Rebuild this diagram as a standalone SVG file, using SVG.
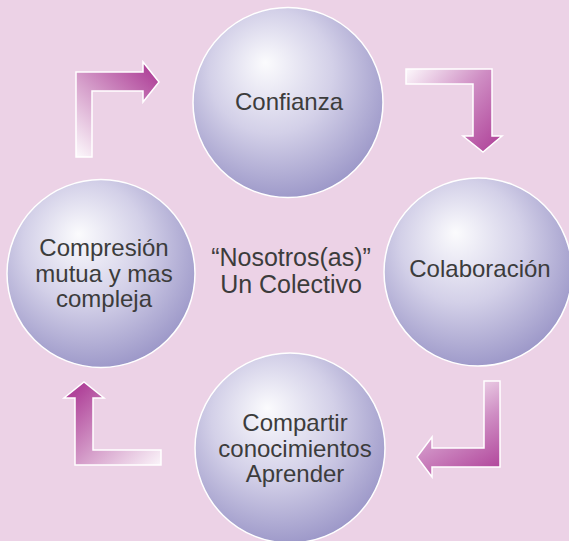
<svg xmlns="http://www.w3.org/2000/svg" width="569" height="541" viewBox="0 0 569 541">
<defs>
<radialGradient id="sph" cx="0.45" cy="0.4" r="0.72" fx="0.38" fy="0.29">
<stop offset="0" stop-color="#fbfbfd"/>
<stop offset="0.45" stop-color="#d3d0e8"/>
<stop offset="1" stop-color="#8c87bf"/>
</radialGradient>
<linearGradient id="a1" gradientUnits="userSpaceOnUse" x1="80" y1="157" x2="155" y2="75">
<stop offset="0" stop-color="#fbf5fa"/>
<stop offset="0.5" stop-color="#d6a0cb"/>
<stop offset="1" stop-color="#b0449a"/>
</linearGradient>
<linearGradient id="a2" gradientUnits="userSpaceOnUse" x1="406" y1="72" x2="495" y2="150">
<stop offset="0" stop-color="#fbf5fa"/>
<stop offset="0.5" stop-color="#cf8ec4"/>
<stop offset="1" stop-color="#b0449a"/>
</linearGradient>
<linearGradient id="a3" gradientUnits="userSpaceOnUse" x1="450" y1="378" x2="500" y2="470">
<stop offset="0" stop-color="#f8edf5"/>
<stop offset="0.5" stop-color="#cf8ec4"/>
<stop offset="1" stop-color="#b0449a"/>
</linearGradient>
<linearGradient id="a4" gradientUnits="userSpaceOnUse" x1="161" y1="465" x2="84" y2="385">
<stop offset="0" stop-color="#fbf5fa"/>
<stop offset="0.5" stop-color="#d6a0cb"/>
<stop offset="1" stop-color="#b0449a"/>
</linearGradient>
</defs>
<style>
.node circle{fill:url(#sph);stroke:#ffffff;stroke-width:1.5}
.node text,.label{font-family:"Liberation Sans",Arial,sans-serif;font-size:24px;fill:#3c3c3c;text-anchor:middle}
.label{font-size:25px}
.arrow{stroke:#ffffff;stroke-width:1.5;stroke-linejoin:miter}
</style>
<rect width="569" height="541" fill="#ecd2e6"/>
<g id="connectors">
<polygon class="arrow" fill="url(#a1)" points="76,157 76,72 143,72 143,62 159,82 143,102 143,91 92,91 92,157"/>
<polygon class="arrow" fill="url(#a2)" points="406,69 492,69 492,136 502,136 483,152 463,136 473,136 473,84 406,84"/>
<polygon class="arrow" fill="url(#a3)" points="484,381 500,381 500,467 432,467 432,477 417,457 432,437 432,448 484,448"/>
<polygon class="arrow" fill="url(#a4)" points="161,450 161,465 75,465 75,398 64,398 84,382 104,398 93,398 93,450"/>
</g>
<g id="confianza" class="node">
<circle cx="288" cy="102.5" r="95"/>
<text x="289" y="110">Confianza</text>
</g>
<g id="colaboracion" class="node">
<circle cx="478" cy="272" r="94"/>
<text x="480" y="277">Colaboración</text>
</g>
<g id="compartir" class="node">
<circle cx="290" cy="448" r="95"/>
<text x="295" y="431">Compartir</text>
<text x="295" y="457">conocimientos</text>
<text x="295" y="482">Aprender</text>
</g>
<g id="compresion" class="node">
<circle cx="101" cy="273.5" r="94"/>
<text x="104" y="256">Compresión</text>
<text x="104" y="282">mutua y mas</text>
<text x="104" y="307">compleja</text>
</g>
<g id="centro">
<text class="label" x="291" y="266">“Nosotros(as)”</text>
<text class="label" x="291" y="293">Un Colectivo</text>
</g>
</svg>
